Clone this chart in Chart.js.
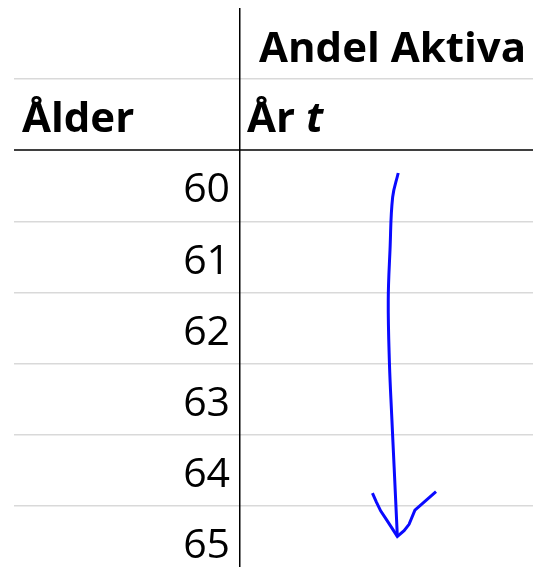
<!DOCTYPE html>
<html>
<head>
<meta charset="utf-8">
<script src="https://cdn.jsdelivr.net/npm/chart.js@4.4.1/dist/chart.umd.min.js"></script>
<style>
  html, body { margin: 0; padding: 0; background: #fff; }
  #wrap { width: 533px; height: 567px; }
</style>
</head>
<body>
<div id="wrap"><canvas id="chart"></canvas></div>
<script>
// table content
const ages = [60, 61, 62, 63, 64, 65];
const headerTop = 'Andel Aktiva';
const headerAge = 'Ålder';
const headerYear = 'År';
const headerYearVar = 't';

// hand drawn arrow (x: share of the "Andel Aktiva" column, y: age row)
const arrowShaftX = [0.540, 0.521, 0.512, 0.506, 0.510, 0.518, 0.526, 0.537];
const arrowShaftY = [59.82, 60.16, 60.90, 61.61, 62.49, 63.25, 63.95, 64.93];
const arrowHeadX = [0.452, 0.466, 0.480, 0.501, 0.537, 0.560, 0.577, 0.597, 0.669];
const arrowHeadY = [64.32, 64.45, 64.57, 64.70, 64.93, 64.85, 64.76, 64.56, 64.30];

const rowTicks = [59, ...ages];
const toPoints = (xs, ys) => xs.map((x, i) => ({ x, y: ys[i] }));

const BLUE = '#0a0aff';
const GRID_GRAY = '#d9d9d9';
const HEADER_LINE = '#3f3f3f';

// header texts drawn on top of the grid rows
const headerPlugin = {
  id: 'headers',
  afterDraw(chart) {
    const { ctx, chartArea } = chart;
    const xs = chart.scales.x;
    const ys = chart.scales.y;
    const divider = xs.getPixelForValue(0);
    ctx.save();
    ctx.fillStyle = '#000';
    ctx.textBaseline = 'alphabetic';
    ctx.textAlign = 'left';
    ctx.font = 'bold 42px "Open Sans"';
    ctx.fillText(headerTop, divider + 19, ys.getPixelForValue(58) + 18);
    const rowY = ys.getPixelForValue(59) + 17;
    ctx.fillText(headerAge, chartArea.left + 8, rowY);
    const yearText = headerYear + ' ';
    ctx.fillText(yearText, divider + 7, rowY);
    const w = ctx.measureText(yearText).width;
    ctx.font = 'italic bold 42px "Open Sans"';
    ctx.fillText(headerYearVar, divider + 7 + w, rowY);
    ctx.restore();
  }
};

new Chart(document.getElementById('chart'), {
  type: 'scatter',
  data: {
    datasets: [
      {
        data: toPoints(arrowShaftX, arrowShaftY),
        showLine: true,
        borderColor: BLUE,
        borderWidth: 3,
        tension: 0.4,
        pointRadius: 0,
      },
      {
        data: toPoints(arrowHeadX, arrowHeadY),
        showLine: true,
        borderColor: BLUE,
        borderWidth: 3,
        tension: 0,
        pointRadius: 0,
      },
    ],
  },
  options: {
    responsive: true,
    maintainAspectRatio: false,
    animation: false,
    layout: { padding: { left: 14, top: 8, right: 0, bottom: 0 } },
    plugins: {
      legend: { display: false },
      tooltip: { enabled: false },
    },
    scales: {
      y: {
        type: 'linear',
        position: { x: -0.034 },
        reverse: true,
        min: 57.5,
        max: 65.36,
        afterBuildTicks: (s) => { s.ticks = rowTicks.map(v => ({ value: v })); },
        afterFit: (s) => { s.paddingTop = 0; s.paddingBottom = 0; },
        border: { display: false },
        grid: {
          offset: true,
          drawTicks: false,
          color: (c) => (c.index === 1 ? HEADER_LINE : GRID_GRAY),
          lineWidth: (c) => (c.index === 1 ? 2 : 1.5),
        },
        ticks: {
          padding: 0,
          labelOffset: 5,
          color: '#000',
          font: { family: '"Open Sans"', size: 41 },
          callback: (v) => (ages.includes(v) ? String(v) : ''),
        },
      },
      x: {
        type: 'linear',
        min: -0.7713,
        max: 1,
        afterBuildTicks: (s) => { s.ticks = [{ value: 0 }]; },
        border: { display: false },
        grid: { drawTicks: false, color: '#000', lineWidth: 1.5, z: 1 },
        ticks: { display: false },
      },
    },
  },
  plugins: [headerPlugin],
});
</script>
</body>
</html>
